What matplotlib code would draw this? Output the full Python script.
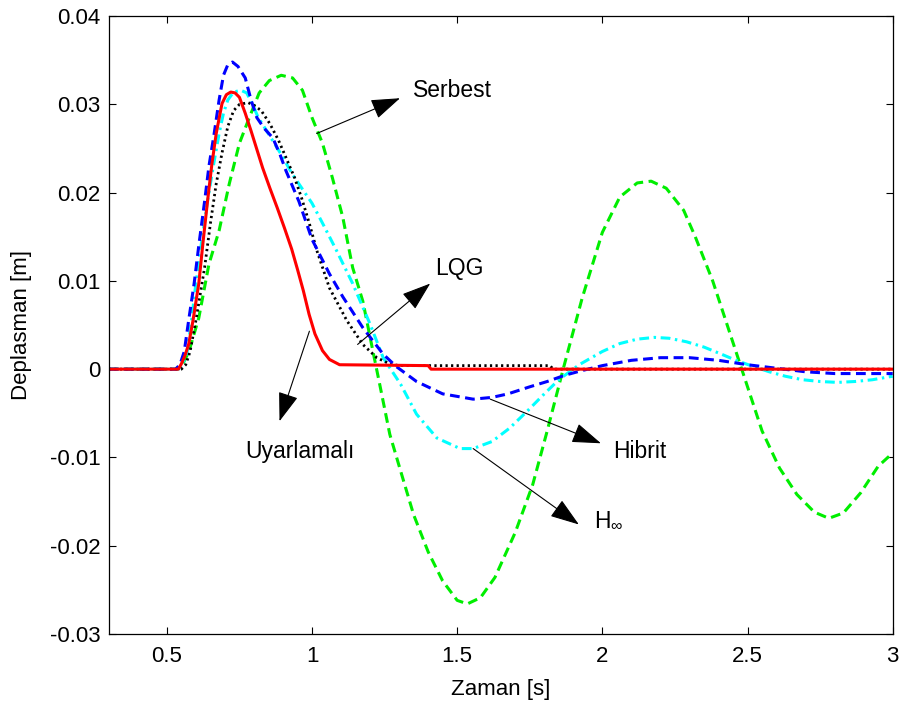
import matplotlib
matplotlib.use("Agg")
import matplotlib.pyplot as plt

plt.rcParams['font.family'] = ['Liberation Sans', 'DejaVu Sans']
plt.rcParams['mathtext.fontset'] = 'custom'
plt.rcParams['mathtext.rm'] = 'Liberation Sans'
plt.rcParams['mathtext.it'] = 'Liberation Sans'

# Serbest (green dashed)
serbest_x = [0.30, 0.53, 0.555, 0.576, 0.61, 0.645, 0.68, 0.715, 0.75, 0.784, 0.818, 0.853, 0.894, 0.933,
             0.967, 1.0, 1.036, 1.07, 1.106, 1.14, 1.175, 1.21, 1.233, 1.268, 1.303, 1.35, 1.40, 1.45,
             1.50, 1.535, 1.58, 1.63, 1.70, 1.76, 1.81, 1.865, 1.93, 2.0, 2.06, 2.12, 2.168, 2.22, 2.28,
             2.32, 2.38, 2.43, 2.48, 2.55, 2.61, 2.67, 2.73, 2.78, 2.83, 2.89, 2.95, 3.0]
serbest_y = [0.0, 0.0, 0.0006, 0.0020, 0.0058, 0.0119, 0.0157, 0.0210, 0.0256, 0.0285, 0.0313, 0.0327,
             0.0333, 0.0330, 0.0316, 0.0285, 0.0256, 0.0217, 0.0172, 0.0115, 0.0077, 0.0020, -0.0017,
             -0.0074, -0.0113, -0.0165, -0.0207, -0.0240, -0.0262, -0.0266, -0.0259, -0.0236, -0.0185,
             -0.0131, -0.0070, 0.0000, 0.0080, 0.0155, 0.0195, 0.0211, 0.0213, 0.0205, 0.0180, 0.0150,
             0.0100, 0.0050, 0.0000, -0.0070, -0.0112, -0.0142, -0.0162, -0.0169, -0.0163, -0.0140,
             -0.0110, -0.0095]

# Hibrit (blue dashed)
hibrit_x = [0.30, 0.53, 0.545, 0.56, 0.575, 0.594, 0.61, 0.63, 0.645, 0.663, 0.68, 0.695, 0.71, 0.726,
            0.745, 0.77, 0.79, 0.81, 0.835, 0.865, 0.89, 0.91, 0.955, 1.0, 1.06, 1.106, 1.175, 1.245,
            1.29, 1.36, 1.45, 1.555, 1.62, 1.675, 1.75, 1.81, 1.87, 1.925, 2.0, 2.1, 2.2, 2.3, 2.4,
            2.5, 2.6, 2.7, 2.8, 2.9, 3.0]
hibrit_y = [0.0, 0.0, 0.0005, 0.0020, 0.0055, 0.0097, 0.0140, 0.0190, 0.0230, 0.0267, 0.0305, 0.0333,
            0.0345, 0.0348, 0.0343, 0.0330, 0.0305, 0.0285, 0.0273, 0.0262, 0.0243, 0.0225, 0.0190,
            0.0147, 0.0108, 0.0082, 0.0047, 0.0017, 0.0003, -0.0014, -0.0028, -0.0034, -0.0032,
            -0.0028, -0.0020, -0.0014, -0.0007, -0.0002, 0.0004, 0.0010, 0.0013, 0.0013, 0.0010,
            0.0005, 0.0001, -0.0003, -0.0005, -0.0005, -0.0005]

# H-infinity (cyan dash-dot)
hinf_x = [0.30, 0.54, 0.555, 0.57, 0.585, 0.60, 0.62, 0.64, 0.66, 0.68, 0.695, 0.71, 0.73, 0.755, 0.775,
          0.795, 0.815, 0.84, 0.87, 0.90, 0.93, 0.965, 1.0, 1.04, 1.085, 1.14, 1.20, 1.245, 1.305,
          1.36, 1.43, 1.51, 1.555, 1.62, 1.68, 1.74, 1.80, 1.85, 1.92, 2.0, 2.06, 2.12, 2.18, 2.23,
          2.29, 2.35, 2.41, 2.46, 2.52, 2.575, 2.63, 2.69, 2.75, 2.81, 2.87, 2.93, 3.0]
hinf_y = [0.0, 0.0, 0.0005, 0.0020, 0.0055, 0.0097, 0.0145, 0.0190, 0.0230, 0.0267, 0.0290, 0.0305,
          0.0314, 0.0316, 0.0313, 0.0300, 0.0285, 0.0272, 0.0256, 0.0240, 0.0222, 0.0205, 0.0188,
          0.0163, 0.0134, 0.0097, 0.0051, 0.0013, -0.0017, -0.0051, -0.0078, -0.0090, -0.0090,
          -0.0082, -0.0067, -0.0048, -0.0028, -0.0012, 0.0005, 0.0020, 0.0029, 0.0034, 0.0036,
          0.0035, 0.0031, 0.0025, 0.0017, 0.0010, 0.0003, -0.0003, -0.0008, -0.0012, -0.0014,
          -0.0015, -0.0014, -0.0012, -0.0008]

# LQG (black dotted)
lqg_x = [0.30, 0.55, 0.565, 0.58, 0.60, 0.63, 0.65, 0.67, 0.69, 0.71, 0.73, 0.75, 0.78, 0.80, 0.825,
         0.855, 0.885, 0.91, 0.94, 0.965, 0.99, 1.016, 1.06, 1.12, 1.175, 1.223, 1.267, 1.30, 1.82,
         1.83, 3.0]
lqg_y = [0.0, 0.0, 0.0005, 0.0020, 0.0055, 0.0115, 0.0165, 0.0210, 0.0245, 0.0275, 0.0293, 0.0300,
         0.0302, 0.0299, 0.0293, 0.0278, 0.0259, 0.0240, 0.0217, 0.0193, 0.0166, 0.0135, 0.0092,
         0.0055, 0.0028, 0.0013, 0.0006, 0.0004, 0.0004, 0.0000, 0.0000]

# Uyarlamali (red solid)
uyar_x = [0.30, 0.54, 0.55, 0.562, 0.575, 0.59, 0.61, 0.625, 0.64, 0.655, 0.67, 0.69, 0.705, 0.72,
          0.735, 0.75, 0.77, 0.79, 0.81, 0.83, 0.855, 0.88, 0.905, 0.93, 0.95, 0.97, 0.99, 1.01,
          1.036, 1.06, 1.095, 1.40, 1.41, 3.0]
uyar_y = [0.0, 0.0, 0.0006, 0.0015, 0.0028, 0.0055, 0.0097, 0.0145, 0.0190, 0.0232, 0.0267, 0.0301,
          0.0311, 0.0314, 0.0313, 0.0308, 0.0290, 0.0270, 0.0249, 0.0228, 0.0205, 0.0183, 0.0160,
          0.0136, 0.0113, 0.0089, 0.0062, 0.0040, 0.0021, 0.0011, 0.0005, 0.0004, 0.0000, 0.0000]

xticks = [0.5, 1, 1.5, 2, 2.5, 3]
xtick_labels = ['0.5', '1', '1.5', '2', '2.5', '3']
yticks = [-0.03, -0.02, -0.01, 0, 0.01, 0.02, 0.03, 0.04]
ytick_labels = ['-0.03', '-0.02', '-0.01', '0', '0.01', '0.02', '0.03', '0.04']

fig = plt.figure(figsize=(8.99, 7.02), dpi=100)
ax = fig.add_axes([0.121, 0.097, 0.872, 0.880])

ax.plot(serbest_x, serbest_y, color='#00ee00', lw=2.2, dashes=(3.2, 1.8))
ax.plot(hinf_x, hinf_y, color='#00ffff', lw=2.2, dashes=(3.2, 1.5, 0.8, 1.5))
ax.plot(lqg_x, lqg_y, color='black', lw=2.0, dashes=(0.8, 1.2))
ax.plot(hibrit_x, hibrit_y, color='#0000ff', lw=2.2, dashes=(3.2, 1.8))
ax.plot(uyar_x, uyar_y, color='#ff0000', lw=2.2)

ax.set_xlim(0.3, 3)
ax.set_ylim(-0.03, 0.04)
ax.set_xticks(xticks)
ax.set_xticklabels(xtick_labels)
ax.set_yticks(yticks)
ax.set_yticklabels(ytick_labels)
ax.tick_params(direction='in', length=5, width=0.8, labelsize=16, top=True, right=True)
ax.tick_params(axis='x', pad=9)
ax.tick_params(axis='y', pad=6)
for s in ax.spines.values():
    s.set_linewidth(0.9)

ax.set_xlabel('Zaman [s]', fontsize=16, labelpad=8)
ax.set_ylabel('Deplasman [m]', fontsize=16, labelpad=13)

ap = dict(arrowstyle='-|>,head_length=1.3,head_width=0.45', color='black', lw=0.8,
          mutation_scale=14, shrinkA=0, shrinkB=0)
fs = 16.5

ax.annotate('', xy=(1.303, 0.0307), xytext=(1.016, 0.0267), arrowprops=ap)
ax.text(1.348, 0.0316, 'Serbest', fontsize=fs, ha='left', va='center')

ax.annotate('', xy=(1.407, 0.0097), xytext=(1.157, 0.0028), arrowprops=ap)
ax.text(1.424, 0.0114, 'LQG', fontsize=fs, ha='left', va='center')

ax.annotate('', xy=(0.888, -0.0059), xytext=(0.991, 0.0043), arrowprops=ap)
ax.text(0.957, -0.0093, 'Uyarlamalı', fontsize=fs, ha='center', va='center')

ax.annotate('', xy=(1.995, -0.0084), xytext=(1.614, -0.0034), arrowprops=ap)
ax.text(2.036, -0.0093, 'Hibrit', fontsize=fs, ha='left', va='center')

ax.annotate('', xy=(1.919, -0.0176), xytext=(1.555, -0.0090), arrowprops=ap)
ax.text(1.97, -0.0170, r'H$_{\infty}$', fontsize=fs, ha='left', va='center')

fig.savefig('out.png', dpi=100)
